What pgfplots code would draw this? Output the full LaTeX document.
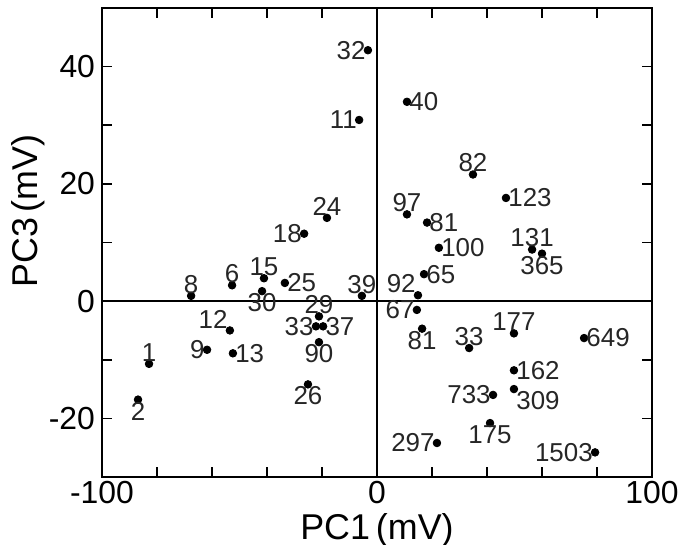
\documentclass[border=0pt]{standalone}
\usepackage{fontspec}
\setmainfont{Liberation Sans}
\usepackage{pgfplots}
\pgfplotsset{compat=1.18}

\pgfplotsset{
 pt/.style={
  only marks, mark=*, mark size=1.9bp, black,
  point meta=explicit symbolic,
  nodes near coords,
  every node near coord/.append style={anchor=#1, inner sep=1bp,
    font=\fontsize{13}{15}\selectfont, text=black!85},
 },
}

\begin{document}
\begin{tikzpicture}
\useasboundingbox (-51bp,-34bp) rectangle (293bp,238.5bp);
\begin{axis}[
 scale only axis,
 width=275bp, height=234.5bp,
 xmin=-100, xmax=100, ymin=-30, ymax=50,
 xtick={-100,0,100}, xticklabels={-100,0,100},
 minor xtick={-80,-60,-40,-20,20,40,60,80},
 ytick={-20,0,20,40}, yticklabels={-20,0,20,40},
 minor ytick={-10,10,30},
 tick align=inside,
 major tick length=5bp, minor tick length=5bp,
 tick style={black, line width=0.8bp},
 axis line style={line width=0.9bp},
 ticklabel style={font=\fontsize{16}{18}\selectfont},
 xticklabel style={inner sep=1bp, yshift=-1bp},
 every axis x label/.style={at={(axis description cs:0.5,-0.113)}, anchor=center, inner sep=0.5bp},
 every axis y label/.style={at={(axis description cs:-0.1345,0.567)}, anchor=center, rotate=90},
 label style={font=\fontsize{18}{20}\selectfont},
 xlabel={PC1\,(mV)},
 ylabel={PC3\,(mV)},
 clip=false,
]
\addplot[black, line width=0.9bp, forget plot] coordinates {(-100,0) (100,0)};
\addplot[black, line width=0.9bp, forget plot] coordinates {(0,-30) (0,50)};

% label to the left of the point
\addplot[pt=east] coordinates {
 (-3.3,42.8) [32] (-6.5,30.9) [11] (-26.5,11.5) [18] (-22.2,-4.3) [33]
 (-61.8,-8.3) [9] (14.5,-1.5) [67] (42.2,-16.0) [733] (21.8,-24.2) [297]
 (79.3,-25.8) [1503]
};
% label to the right
\addplot[pt=west] coordinates {
 (-33.5,3.1) [25] (-19.6,-4.3) [37] (-52.4,-8.9) [13] (10.9,34.0) [40]
 (18.2,13.4) [81] (46.9,17.6) [123] (22.5,9.1) [100] (17.1,4.6) [65]
 (75.3,-6.3) [649] (49.8,-11.8) [162]
};
% label above
\addplot[pt=south] coordinates {
 (-18.2,14.2) [24] (-67.6,0.9) [8] (-52.7,2.7) [6] (-41.1,3.9) [15]
 (-5.5,0.9) [39] (-21.1,-2.6) [29] (-82.9,-10.7) [1] (34.9,21.6) [82]
 (10.9,14.8) [97] (56.4,8.8) [131] (33.5,-8.0) [33] (49.8,-5.5) [177]
};
% label below
\addplot[pt=north] coordinates {
 (-41.8,1.7) [30] (-21.1,-7.0) [90] (-86.9,-16.8) [2] (-25.1,-14.2) [26]
 (60.0,8.1) [365] (16.4,-4.7) [81] (41.1,-20.8) [175]
};
% label upper left
\addplot[pt=south east] coordinates {
 (-53.5,-5.0) [12] (14.9,1.0) [92]
};
% label lower right
\addplot[pt=north west] coordinates {
 (49.8,-15.0) [309]
};
\end{axis}
\end{tikzpicture}
\end{document}
